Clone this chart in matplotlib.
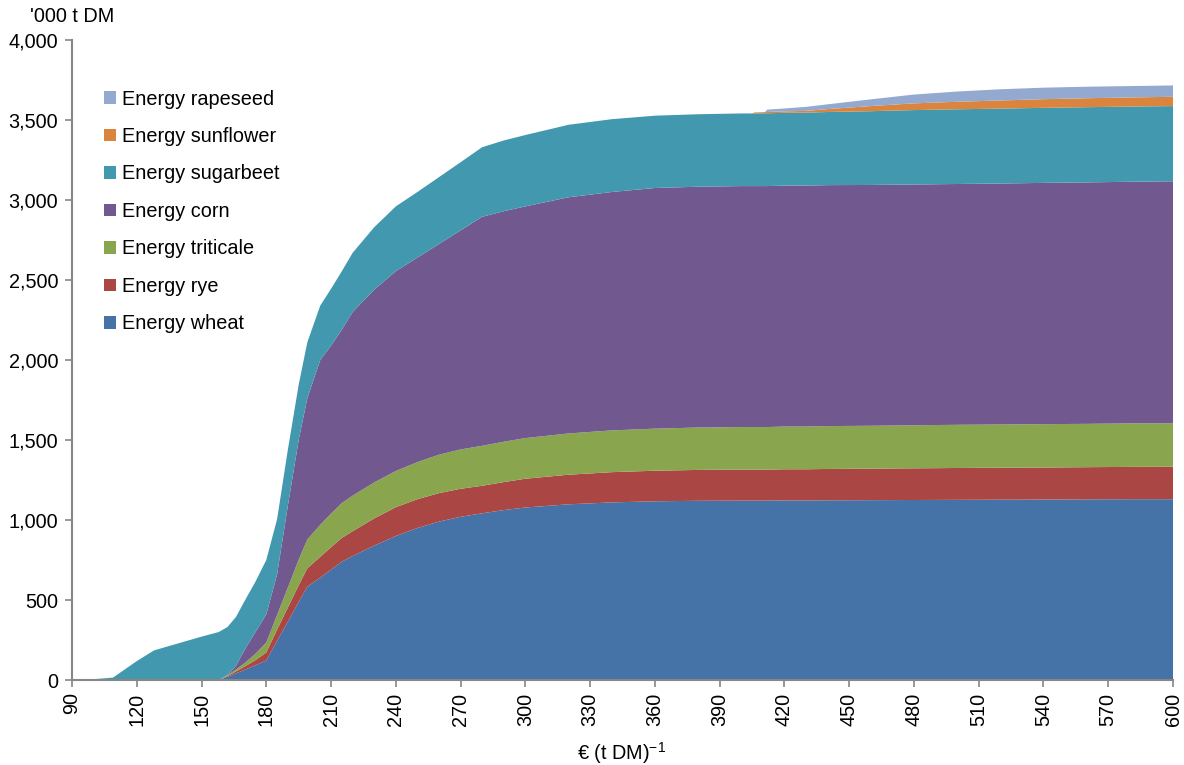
import matplotlib
matplotlib.use("Agg")
import matplotlib.pyplot as plt
from matplotlib.patches import Patch

plt.rcParams['font.family'] = ['Liberation Sans', 'DejaVu Sans']
plt.rcParams['mathtext.default'] = 'regular'

# price points (€ per t DM)
price = [90, 100, 109, 120, 128, 140, 150, 158, 162, 166, 170, 175, 180, 185, 190, 195, 199,
         205, 210, 215, 220, 230, 240, 250, 260, 270, 280, 290, 300, 320, 340, 360, 380, 400,
         405, 406, 411, 412, 420, 430, 440, 460, 480, 500, 520, 540, 560, 580, 600]

wheat = [0, 0, 0, 0, 0, 0, 0, 0, 20, 42, 64, 92, 122, 245, 365, 487, 583,
         640, 690, 740, 775, 840, 900, 950, 990, 1020, 1042, 1062, 1078, 1098, 1110, 1117, 1120, 1121,
         1121, 1121, 1121, 1121, 1122, 1122, 1123, 1124, 1125, 1126, 1127, 1128, 1129, 1130, 1130]

rye = [0, 0, 0, 0, 0, 0, 0, 0, 5, 12, 20, 32, 50, 70, 88, 105, 115,
       130, 140, 148, 155, 170, 180, 180, 178, 175, 172, 175, 180, 185, 189, 191, 193, 194,
       194, 194, 194, 194, 195, 195, 196, 197, 198, 199, 200, 200, 201, 202, 203]

triticale = [0, 0, 0, 0, 0, 0, 0, 0, 4, 12, 22, 40, 62, 92, 125, 160, 180,
             200, 210, 218, 222, 225, 226, 232, 240, 246, 250, 252, 254, 258, 261, 263, 265, 266,
             266, 266, 266, 266, 267, 267, 268, 268, 269, 270, 270, 271, 271, 272, 272]

corn = [0, 0, 0, 0, 0, 0, 0, 0, 2, 24, 84, 136, 176, 253, 512, 748, 882,
        1030, 1050, 1084, 1148, 1205, 1249, 1278, 1317, 1369, 1431, 1441, 1448, 1476, 1490, 1504, 1505, 1506,
        1506, 1506, 1506, 1506, 1506, 1506, 1506, 1505, 1505, 1505, 1506, 1508, 1509, 1510, 1512]

sugarbeet = [0, 5, 15, 118, 185, 232, 271, 300, 300, 305, 305, 315, 340, 345, 350, 345, 350,
             340, 355, 365, 370, 390, 405, 410, 418, 426, 435, 442, 446, 453, 455, 452, 453, 454,
             454, 454, 455, 455, 455, 456, 457, 461, 465, 467, 468, 469, 470, 470, 470]

sunflower = [0, 0, 0, 0, 0, 0, 0, 0, 0, 0, 0, 0, 0, 0, 0, 0, 0,
             0, 0, 0, 0, 0, 0, 0, 0, 0, 0, 0, 0, 0, 0, 0, 0, 0,
             0, 6, 7, 8, 9, 11, 18, 32, 42, 47, 51, 54, 56, 57, 58]

rapeseed = [0, 0, 0, 0, 0, 0, 0, 0, 0, 0, 0, 0, 0, 0, 0, 0, 0,
            0, 0, 0, 0, 0, 0, 0, 0, 0, 0, 0, 0, 0, 0, 0, 0, 0,
            0, 0, 0, 15, 18, 25, 30, 42, 55, 64, 70, 72, 72, 71, 71]

labels = ["Energy wheat", "Energy rye", "Energy triticale", "Energy corn",
          "Energy sugarbeet", "Energy sunflower", "Energy rapeseed"]
colors = ["#4572A7", "#AA4643", "#89A54E", "#71588F", "#4198AF", "#DB843D", "#93A9CF"]

x_ticks = list(range(90, 601, 30))
y_ticks = list(range(0, 4001, 500))

FS = 14.3

fig = plt.figure(figsize=(11.84, 7.65), dpi=100)
ax = fig.add_axes([72/1184, 1-680/765, (1173-72)/1184, (680-40)/765])

ax.stackplot(price, wheat, rye, triticale, corn, sugarbeet, sunflower, rapeseed,
             colors=colors, linewidth=0)

ax.set_xlim(90, 600)
ax.set_ylim(0, 4000)
ax.set_xticks(x_ticks)
ax.set_xticklabels([str(v) for v in x_ticks], rotation=90, fontsize=FS)
ax.set_yticks(y_ticks)
ax.set_yticklabels([f"{v:,}" for v in y_ticks], fontsize=FS)

for s in ['top', 'right']:
    ax.spines[s].set_visible(False)
for s in ['left', 'bottom']:
    ax.spines[s].set_color('#868686')
    ax.spines[s].set_linewidth(1.5)
ax.tick_params(axis='both', colors='#868686', length=5, width=1.2, labelcolor='black')
ax.tick_params(axis='x', pad=4)
ax.tick_params(axis='y', pad=5)

fig.text(622/1184, 1-753/765, "€ (t DM)$^{-1}$", fontsize=FS, ha='center', va='center')
fig.text(30/1184, 1-16/765, "'000 t DM", fontsize=FS, ha='left', va='center')

handles = [Patch(facecolor=c, edgecolor='none') for c in colors]
leg = ax.legend(handles[::-1], labels[::-1], loc='upper left',
                bbox_to_anchor=(0.022, 0.935), frameon=False, fontsize=FS,
                handlelength=0.6, handleheight=0.6, handletextpad=0.3,
                labelspacing=0.93, borderaxespad=0)

fig.savefig("out.png", dpi=100)
